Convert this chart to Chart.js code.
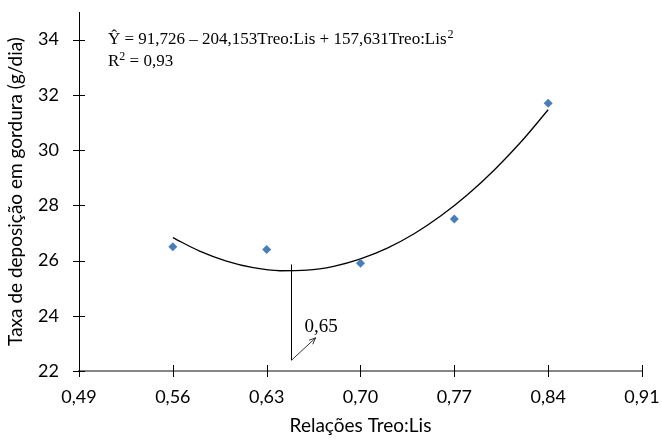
<!DOCTYPE html>
<html><head><meta charset="utf-8">
<script src="https://cdn.jsdelivr.net/npm/chart.js@4/dist/chart.umd.min.js"></script>
<style>html,body{margin:0;padding:0;background:#fff}#wrap{width:662px;height:441px}</style>
</head><body><div id="wrap"><canvas id="c" width="662" height="441"></canvas></div>
<script>
// observed points
const ratios = [0.56, 0.63, 0.70, 0.77, 0.84];
const fatRate = [26.5, 26.4, 25.9, 27.5, 31.7];
// fitted curve (Ŷ = 91,726 – 204,153x + 157,631x²)
const curveX = [0.56, 0.58, 0.60, 0.62, 0.64, 0.66, 0.68, 0.70, 0.72, 0.74, 0.76, 0.78, 0.80, 0.82, 0.84];
const curveY = [26.83, 26.34, 25.98, 25.74, 25.63, 25.65, 25.79, 26.06, 26.45, 26.97, 27.62, 28.39, 29.29, 30.31, 31.46];
const xTicks = [0.49, 0.56, 0.63, 0.70, 0.77, 0.84, 0.91];
const yTicks = [22, 24, 26, 28, 30, 32, 34];
const optimumX = 0.6485, optimumTopY = 25.86, optimumBottomY = 22.39;
const arrowEnd = [0.6665, 23.2];
const optimumLabel = '0,65';
const eqText = 'Ŷ = 91,726 – 204,153Treo:Lis + 157,631Treo:Lis';
const r2Text = 'R';
const r2Value = ' = 0,93';

const sans = 'Lato';
const serif = '"Liberation Serif"';

const extras = {
  id: 'extras',
  afterDraw(chart) {
    const ctx = chart.ctx, xs = chart.scales.x, ys = chart.scales.y, ca = chart.chartArea;
    ctx.save();
    // cross ticks
    ctx.strokeStyle = '#000'; ctx.lineWidth = 1;
    xTicks.forEach(v => { const px = Math.round(xs.getPixelForValue(v)) + 0.5;
      ctx.beginPath(); ctx.moveTo(px, ca.bottom - 6); ctx.lineTo(px, ca.bottom + 6); ctx.stroke(); });
    yTicks.forEach(v => { const py = Math.round(ys.getPixelForValue(v)) + 0.5;
      ctx.beginPath(); ctx.moveTo(ca.left - 6, py); ctx.lineTo(ca.left + 6, py); ctx.stroke(); });
    // vertical line at optimum
    const ox = Math.round(xs.getPixelForValue(optimumX)) + 0.5;
    const oy1 = ys.getPixelForValue(optimumTopY), oy2 = ys.getPixelForValue(optimumBottomY);
    ctx.beginPath(); ctx.moveTo(ox, oy1); ctx.lineTo(ox, oy2); ctx.stroke();
    // arrow
    const ax = xs.getPixelForValue(arrowEnd[0]), ay = ys.getPixelForValue(arrowEnd[1]);
    ctx.lineWidth = 0.8;
    ctx.beginPath(); ctx.moveTo(ox, oy2); ctx.lineTo(ax, ay); ctx.stroke();
    const ang = Math.atan2(ay - oy2, ax - ox);
    ctx.beginPath();
    ctx.moveTo(ax - 7 * Math.cos(ang - 0.4), ay - 7 * Math.sin(ang - 0.4));
    ctx.lineTo(ax, ay);
    ctx.lineTo(ax - 7 * Math.cos(ang + 0.4), ay - 7 * Math.sin(ang + 0.4));
    ctx.stroke();
    // label
    ctx.fillStyle = '#000';
    ctx.font = '19px ' + serif;
    ctx.textBaseline = 'alphabetic'; ctx.textAlign = 'left';
    ctx.fillText(optimumLabel, ax - 11, ay - 6);
    // equation
    const ex = ca.left + 29, ey = ca.top + 32;
    ctx.font = '17px ' + serif;
    ctx.fillText(eqText, ex, ey);
    let w = ctx.measureText(eqText).width;
    ctx.font = '12px ' + serif;
    ctx.fillText('2', ex + w + 1, ey - 6);
    ctx.font = '17px ' + serif;
    ctx.fillText(r2Text, ex, ey + 22);
    w = ctx.measureText(r2Text).width;
    ctx.font = '12px ' + serif;
    ctx.fillText('2', ex + w, ey + 22 - 6);
    const w2 = ctx.measureText('2').width;
    ctx.font = '17px ' + serif;
    ctx.fillText(r2Value, ex + w + w2, ey + 22);
    ctx.restore();
  }
};

new Chart(document.getElementById('c'), {
  type: 'scatter',
  data: {
    datasets: [
      { label: 'Observado', data: ratios.map((x, i) => ({ x, y: fatRate[i] })),
        pointStyle: 'rectRot', pointRadius: 4.5, pointHoverRadius: 4.5,
        backgroundColor: '#4a7ebb', borderColor: '#4a7ebb', borderWidth: 0, order: 1 },
      { label: 'Ajuste', type: 'line', data: curveX.map((x, i) => ({ x, y: curveY[i] })),
        showLine: true, borderColor: '#000', borderWidth: 1.3, pointRadius: 0, tension: 0.4,
        cubicInterpolationMode: 'monotone', fill: false, order: 2 }
    ]
  },
  options: {
    responsive: false, animation: false, devicePixelRatio: 1,
    layout: { padding: { left: 0, right: 20, top: 12, bottom: 0 } },
    plugins: { legend: { display: false }, tooltip: { enabled: false } },
    scales: {
      x: {
        type: 'linear', min: 0.49, max: 0.91,
        afterBuildTicks: a => { a.ticks = xTicks.map(v => ({ value: v })); },
        afterFit: a => { a.height = 70; a.paddingLeft = 0; a.paddingRight = 0; },
        grid: { display: false, drawTicks: false },
        border: { display: true, color: '#868686', width: 2 },
        ticks: { color: '#000', font: { family: sans, size: 18 }, padding: 15,
          callback: v => v.toFixed(2).replace('.', ','), maxRotation: 0, autoSkip: false },
        title: { display: true, text: 'Relações Treo:Lis', color: '#000',
          font: { family: sans, size: 19 }, padding: { top: 10 } }
      },
      y: {
        type: 'linear', min: 22, max: 35,
        afterBuildTicks: a => { a.ticks = yTicks.map(v => ({ value: v })); },
        afterFit: a => { a.width = 79; a.paddingTop = 0; a.paddingBottom = 0; },
        grid: { display: false, drawTicks: false },
        border: { display: true, color: '#000', width: 1 },
        ticks: { color: '#000', font: { family: sans, size: 18 }, padding: 20 },
        title: { display: true, text: 'Taxa de deposição em gordura (g/dia)', color: '#000',
          font: { family: sans, size: 19 }, padding: { bottom: 2 } }
      }
    }
  },
  plugins: [extras]
});
</script></body></html>
